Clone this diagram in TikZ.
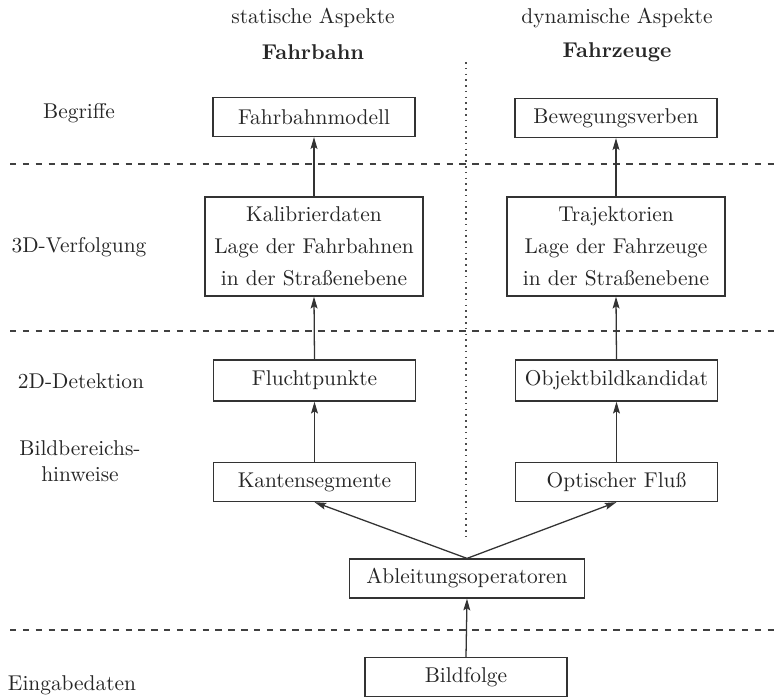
\documentclass[tikz,border=0pt]{standalone}
\usetikzlibrary{arrows.meta}
\begin{document}
\begin{tikzpicture}[x=0.4673pt,y=-0.4673pt,
  every node/.style={text=black!85},
  box/.style={draw=black!80, line width=0.6pt, minimum width=94.4pt,
    minimum height=18.2pt, inner sep=2pt, align=center},
  tall/.style={box, minimum width=101.9pt, minimum height=46.3pt},
  flow/.style={draw=black!80, line width=0.6pt,
    -{Stealth[length=5.5pt,width=3.2pt,inset=1pt]}},
  sep/.style={draw=black!75, dashed, line width=0.5pt},
  level/.style={inner sep=0pt, align=center},
  ]
\useasboundingbox (0,0) rectangle (774,698);

% column headings
\node (hs)  at (313,18) {statische Aspekte};
\node[font=\bfseries] (hsb) at (313,52) {Fahrbahn};
\node (hd)  at (617,18) {dynamische Aspekte};
\node[font=\bfseries] (hdb) at (617,52) {Fahrzeuge};

% level labels
\node[level] (l1) at (79,113) {Begriffe};
\node[level] (l2) at (79,247) {3D-Verfolgung};
\node[level] (l3) at (81,381) {2D-Detektion};
\node[level] (l4) at (80,461) {Bildbereichs-\\hinweise};
\node[level] (l5) at (72,685) {Eingabedaten};

% level separators and column divider
\draw[sep] (10,164) -- (774,164);
\draw[sep] (10,331) -- (774,331);
\draw[sep] (10,630) -- (774,630);
\draw[draw=black!70, dotted, line width=0.7pt] (466,62) -- (466,540);

% boxes
\node[box] (fbm) at (314,117) {Fahrbahnmodell};
\node[box] (bew) at (616,118) {Bewegungsverben};
\node[tall] (kal) at (314,246.5) {Kalibrierdaten\\[3pt]Lage der Fahrbahnen\\[3pt]in der Straßenebene};
\node[tall] (tra) at (616,246.5) {Trajektorien\\[3pt]Lage der Fahrzeuge\\[3pt]in der Straßenebene};
\node[box, minimum height=19.2pt] (flu) at (314.5,380.5) {Fluchtpunkte};
\node[box, minimum height=19.2pt] (obj) at (616.5,380.5) {Objektbildkandidat};
\node[box] (kan) at (314.5,482) {Kantensegmente};
\node[box] (opt) at (616.5,482) {Optischer Fluß};
\node[box, minimum width=109.8pt] (abl) at (467,578.5) {Ableitungsoperatoren};
\node[box] (bil) at (466,677) {Bildfolge};

% data flow
\draw[flow] (kal.north) -- (fbm.south);
\draw[flow] (tra.north) -- (bew.south);
\draw[flow] (flu.north) -- (kal.south);
\draw[flow] (obj.north) -- (tra.south);
\draw[flow] (kan.north) -- (flu.south);
\draw[flow] (opt.north) -- (obj.south);
\draw[flow] (abl.north) -- (kan.south);
\draw[flow] (abl.north) -- (opt.south);
\draw[flow] (bil.north) -- (abl.south);
\end{tikzpicture}
\end{document}
